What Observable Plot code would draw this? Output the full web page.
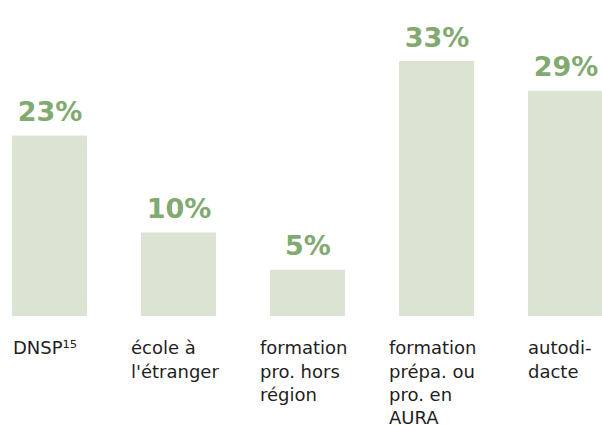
<!DOCTYPE html>
<html>
<head>
<meta charset="utf-8">
<script src="https://cdn.jsdelivr.net/npm/d3@7"></script>
<script src="https://cdn.jsdelivr.net/npm/@observablehq/plot@0.6"></script>
<style>
  html, body { margin: 0; padding: 0; background: #fff; }
  #chart svg { display: block; }
</style>
</head>
<body>
<div id="chart"></div>
<script>
const categories = ["DNSP¹⁵", "école à\nl'étranger", "formation\npro. hors\nrégion", "formation\nprépa. ou\npro. en\nAURA", "autodi-\ndacte"];
const values = [23, 10, 5, 33, 29];
const valueLabels = ["23%", "10%", "5%", "33%", "29%"];

const data = categories.map((c, i) => ({cat: c, value: values[i], label: valueLabels[i], i}));

const font = "'DejaVu Sans', sans-serif";

const chart = Plot.plot({
  width: 602,
  height: 426,
  margin: 0,
  style: {fontFamily: font, background: "#fff", overflow: "hidden"},
  x: {domain: categories, range: [10, 606], paddingInner: 0.415, paddingOuter: 0, axis: null},
  y: {domain: [0, 33], range: [307, 61], axis: null},
  marks: [
    Plot.barY(data, {x: "cat", y: "value", fill: "#dbe3d3", insetBottom: -9}),
    Plot.text(data, {x: "cat", y: "value", text: "label", dy: -15, lineAnchor: "bottom",
      fill: "#80aa6f", fontSize: 27, fontWeight: "bold"}),
    Plot.text(data.filter(d => d.i === 0), {x: "cat", y: () => 0, text: "cat", textAnchor: "start", lineAnchor: "top",
      dx: -37, dy: 30, fontSize: 18, lineHeight: 1.3, fill: "#1e1e1e"}),
    Plot.text(data.filter(d => d.i > 0 && d.i < 4), {x: "cat", y: () => 0, text: "cat", textAnchor: "start", lineAnchor: "top",
      dx: -48, dy: 30, fontSize: 18, lineHeight: 1.3, fill: "#1e1e1e"}),
    Plot.text(data.filter(d => d.i === 4), {x: "cat", y: () => 0, text: "cat", textAnchor: "start", lineAnchor: "top",
      dx: -38, dy: 30, fontSize: 18, lineHeight: 1.3, fill: "#1e1e1e"})
  ]
});
document.getElementById("chart").appendChild(chart);
</script>
</body>
</html>
